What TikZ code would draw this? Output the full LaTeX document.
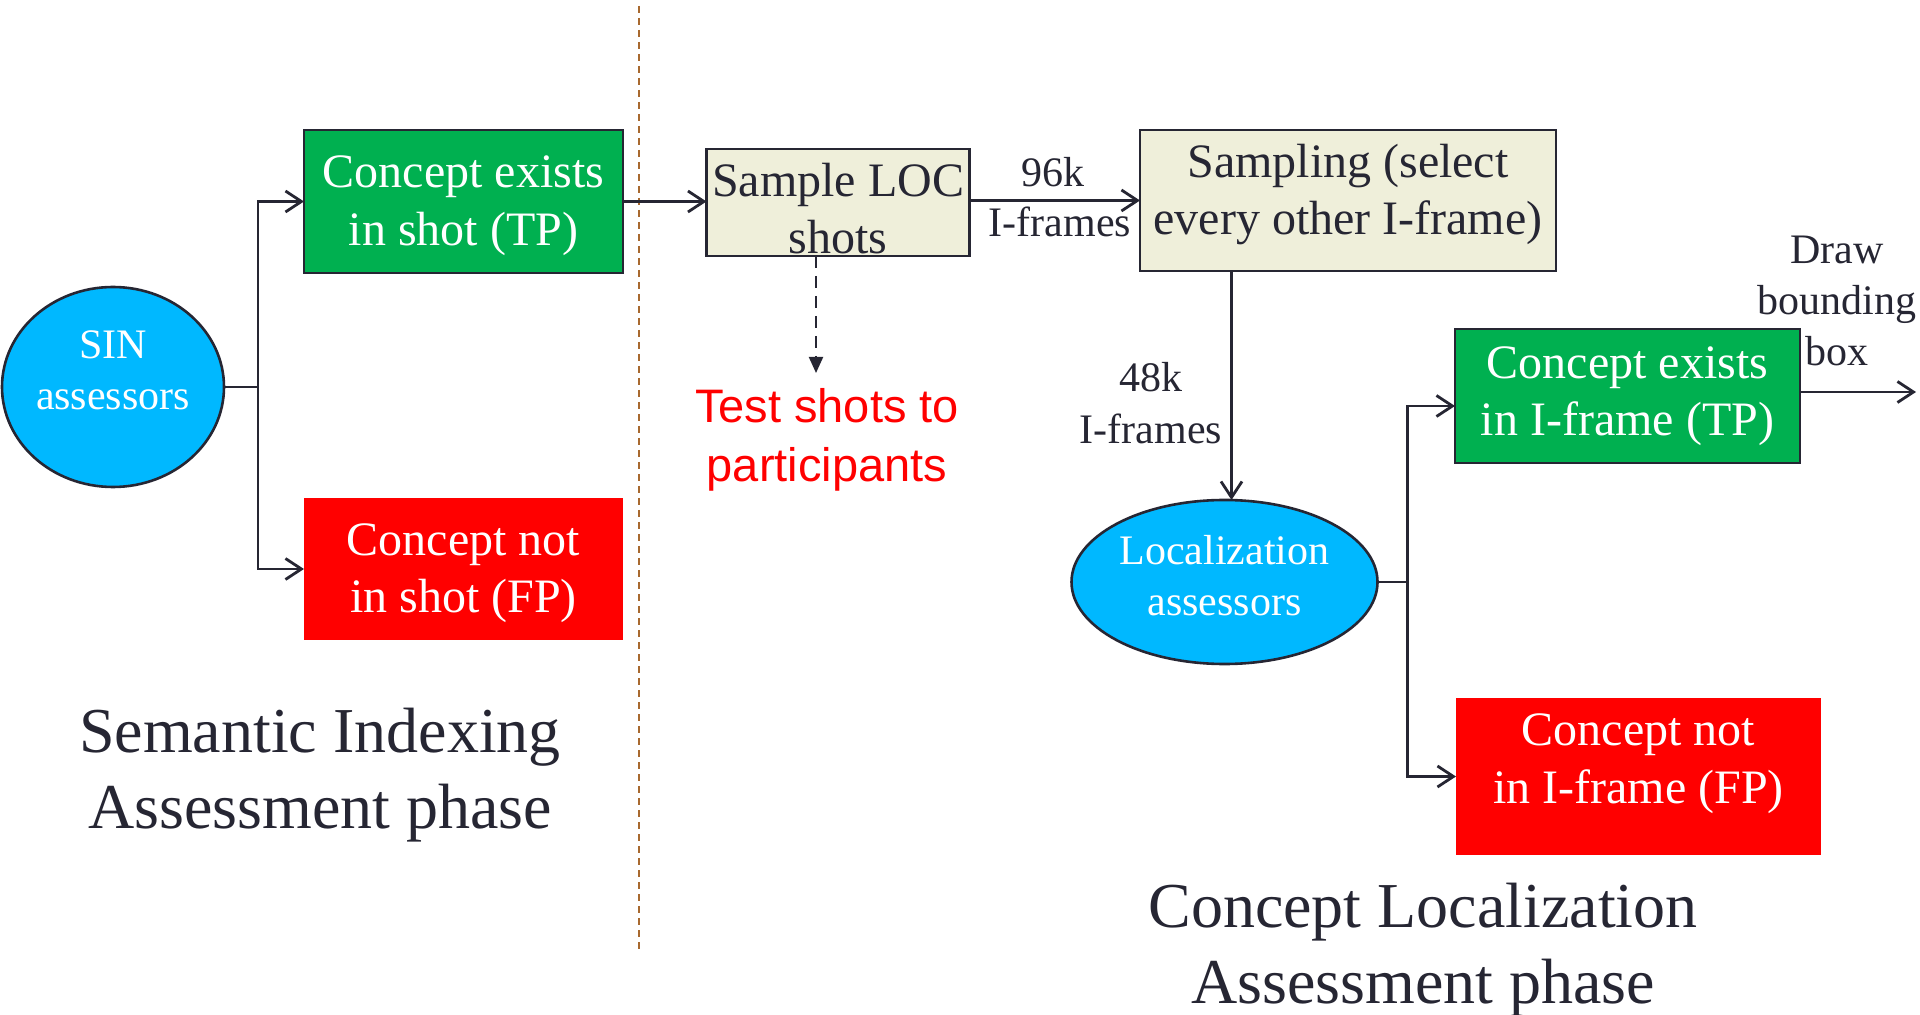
\documentclass[tikz,border=0pt]{standalone}
\usepackage{fontspec}
\setmainfont{Liberation Serif}
\newfontfamily\arialfont{Liberation Sans}
\usetikzlibrary{arrows.meta,shapes.geometric,calc}
\definecolor{ink}{HTML}{262633}
\definecolor{okgreen}{HTML}{00B050}
\definecolor{fpred}{HTML}{FF0000}
\definecolor{skyblue}{HTML}{00B8FF}
\definecolor{beige}{HTML}{EFEFDA}
\definecolor{divider}{HTML}{A8692F}
\begin{document}
\begin{tikzpicture}[x=0.5pt,y=-0.5pt,
  every node/.style={inner sep=0pt,outer sep=0pt},
  boxtxt/.style={font=\fontsize{24}{28.75}\selectfont, align=center},
  tpbox/.style={rectangle, draw=ink, line width=1.3pt, fill=okgreen},
  fpbox/.style={rectangle, fill=fpred},
  stepbox/.style={rectangle, draw=ink, line width=1.3pt, fill=beige},
  assessor/.style={ellipse, draw=ink, line width=1.3pt, fill=skyblue},
  asstxt/.style={text=white, font=\fontsize{21}{25.5}\selectfont, align=center},
  note/.style={text=ink, font=\fontsize{21}{25.7}\selectfont, align=center},
  phase/.style={text=ink, font=\fontsize{32}{38}\selectfont, align=center},
  link/.style={draw=ink, line width=1.4pt},
  flow/.style={link, -{Straight Barb[length=8pt,width=10.5pt,line width=1.4pt]}},
]
\useasboundingbox (0,0) rectangle (1920,1015);

% phase divider
\coordinate (divtop) at (639,6);
\coordinate (divbot) at (639,953);
\draw[divider, line width=1pt, dash pattern=on 3.3pt off 2.7pt] (divtop) -- (divbot);

% semantic indexing phase
\node[assessor, minimum width=111pt, minimum height=100pt] (sin) at (113,387) {};
\node[asstxt, yshift=8.5pt] (sintxt) at (sin.center) {SIN\\assessors};
\node[tpbox, minimum width=159.5pt, minimum height=71.5pt] (tp1) at (463.5,201.5) {};
\node[boxtxt, text=white, yshift=-2pt] (tp1txt) at (tp1.center) {Concept exists\\in shot (TP)};
\node[fpbox, minimum width=159.5pt, minimum height=71pt] (fp1) at (463.5,569) {};
\node[boxtxt, text=white, yshift=-2pt] (fp1txt) at (fp1.center) {Concept not\\in shot (FP)};

\draw[flow] (sin.east) -- ++(34,0) |- (tp1.west);
\draw[flow] (sin.east) -- ++(34,0) |- (fp1.west);

\node[phase] (siphase) at (320,775) {Semantic Indexing\\Assessment phase};

% localization phase
\node[stepbox, minimum width=131.5pt, minimum height=53.5pt] (loc) at (838,202.5) {};
\node[boxtxt, text=ink, yshift=-3pt] (loctxt) at (loc.center) {Sample LOC\\shots};
\node[stepbox, minimum width=208pt, minimum height=70.5pt] (samp) at (1348,200.5) {};
\node[boxtxt, text=ink, yshift=3pt] (samptxt) at (samp.center) {Sampling (select\\every other I-frame)};

\draw[flow] (tp1.east) -- (tp1.east -| loc.west);
\draw[flow] ([yshift=1pt]loc.east) -- ([yshift=1pt]loc.east -| samp.west);
\node[note, anchor=base] (n96) at (1053,187) {96k};
\node[note, anchor=base] (nif) at (1060,237) {I-frames};

\coordinate (testtip) at (816,373);
\draw[link, line width=1pt, dash pattern=on 6pt off 4pt, -{Triangle[length=8pt,width=7pt]}] (loc.south -| testtip) -- (testtip);
\node[text=fpred, font=\arialfont\fontsize{23.5}{29.5}\selectfont, align=center] (test) at (827,440) {Test shots to\\participants};

\node[assessor, minimum width=153pt, minimum height=82pt] (loca) at (1224.5,582) {};
\node[asstxt, yshift=3pt] (locatxt) at (loca.center) {Localization\\assessors};
\draw[flow] ([xshift=3.5pt]samp.south -| loca.north) -- ([xshift=3.5pt]loca.north);
\node[note] (n48) at (1151,403) {48k\\I-frames};

\node[tpbox, minimum width=172.5pt, minimum height=67pt] (tp2) at (1627.5,396) {};
\node[boxtxt, text=white] (tp2txt) at (tp2.center) {Concept exists\\in I-frame (TP)};
\node[fpbox, minimum width=182.5pt, minimum height=78.5pt] (fp2) at (1638.5,776.5) {};
\node[boxtxt, text=white, yshift=6.5pt] (fp2txt) at (fp2.center) {Concept not\\in I-frame (FP)};

\draw[flow] (loca.east) -- ++(30,0) |- ([yshift=-5pt]tp2.west);
\draw[flow] (loca.east) -- ++(30,0) |- (fp2.west);

\coordinate (bbtip) at (1916,392);
\draw[flow] (tp2.east |- bbtip) -- (bbtip);
\node[note] (bbtxt) at (1837,301) {Draw\\bounding\\box};

\node[phase] (clphase) at (1423,950) {Concept Localization\\Assessment phase};
\end{tikzpicture}
\end{document}
